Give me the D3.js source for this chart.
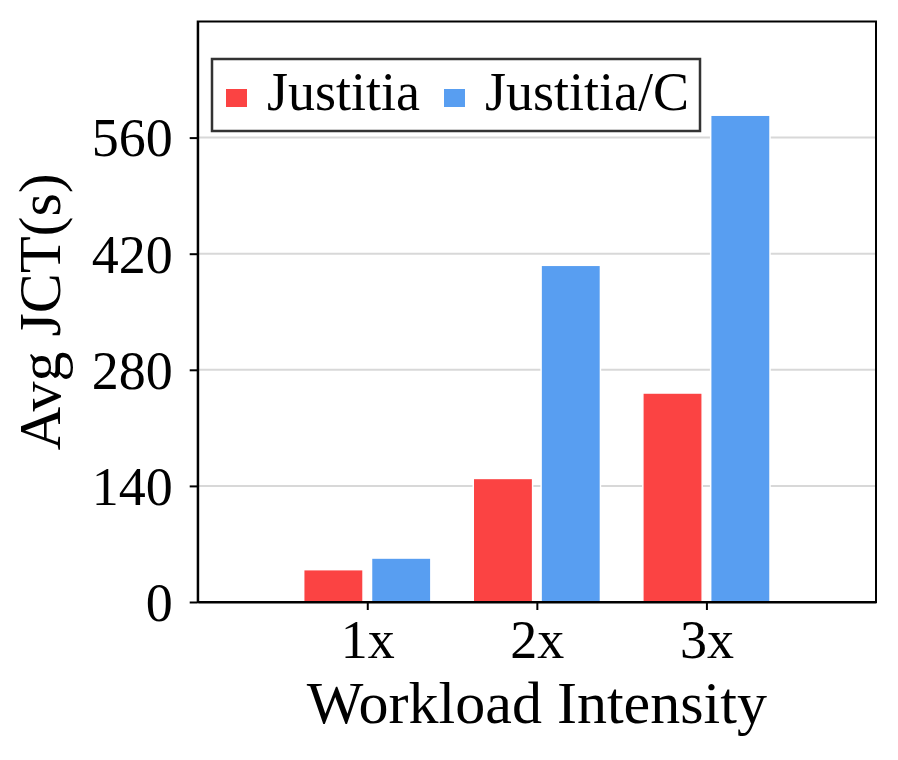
<!DOCTYPE html>
<html>
<head>
<meta charset="utf-8">
<script src="https://cdn.jsdelivr.net/npm/d3@7"></script>
<style>
  html, body { margin: 0; padding: 0; background: #fff; }
  svg text { font-family: "Liberation Serif", "Times New Roman", serif; fill: #000; }
</style>
</head>
<body>
<svg id="chart" width="898" height="760"></svg>
<script>
const categories = ["1x", "2x", "3x"];
const categoryPositions = [1, 2, 3];
const seriesNames = ["Justitia", "Justitia/C"];
const justitiaValues = [39, 149, 252];
const justitiaCValues = [53, 406, 587];
const yTicks = [0, 140, 280, 420, 560];
const colors = ["#fb4343", "#589ef1"];

const seriesValues = [justitiaValues, justitiaCValues];
const offsets = [-0.2, 0.2];
const barWidth = 0.35;

const svg = d3.select("#chart");
const mLeft = 197.7, mRight = 876, mTop = 21.5, mBottom = 602;

const x = d3.scaleLinear().domain([0, 4]).range([mLeft, mRight]);
const y = d3.scaleLinear().domain([0, 700]).range([mBottom, mTop]);

// gridlines
svg.append("g").selectAll("line").data(yTicks.filter(d => d > 0)).join("line")
  .attr("x1", mLeft).attr("x2", mRight)
  .attr("y1", d => y(d)).attr("y2", d => y(d))
  .attr("stroke", "#d8d8d8").attr("stroke-width", 2);

// bars
seriesValues.forEach((vals, si) => {
  svg.append("g").selectAll("rect").data(vals).join("rect")
    .attr("x", (d, i) => x(categoryPositions[i] + offsets[si] - barWidth / 2))
    .attr("width", x(barWidth) - x(0))
    .attr("y", d => y(d))
    .attr("height", d => y(0) - y(d))
    .attr("fill", colors[si])
    .attr("stroke", "#fff").attr("stroke-width", 1.5);
});

// frame
svg.append("rect").attr("x", mLeft).attr("y", mTop)
  .attr("width", mRight - mLeft).attr("height", mBottom - mTop)
  .attr("fill", "none").attr("stroke", "#000").attr("stroke-width", 2);

// axes
const yAxis = svg.append("g").attr("transform", `translate(${mLeft},0)`)
  .call(d3.axisLeft(y).tickValues(yTicks).tickSize(8).tickSizeOuter(0).tickPadding(17));
const xAxis = svg.append("g").attr("transform", `translate(0,${mBottom})`)
  .call(d3.axisBottom(x).tickValues(categoryPositions).tickFormat((d, i) => categories[i]).tickSize(8).tickSizeOuter(0).tickPadding(9));
[yAxis, xAxis].forEach(g => {
  g.select(".domain").attr("stroke", "#000").attr("stroke-width", 2);
  g.selectAll(".tick line").attr("stroke", "#000").attr("stroke-width", 2);
  g.selectAll(".tick text").attr("font-size", 54).attr("font-family", "Liberation Serif").attr("fill", "#000");
});
yAxis.selectAll(".tick text").attr("dy", "0.34em");
xAxis.selectAll(".tick text").attr("dy", "0.72em");

// axis labels
svg.append("text").attr("x", (mLeft + mRight) / 2).attr("y", 723)
  .attr("text-anchor", "middle").attr("font-size", 60).text("Workload Intensity");
svg.append("text").attr("transform", `translate(60,${(mTop + mBottom) / 2}) rotate(-90)`)
  .attr("text-anchor", "middle").attr("font-size", 60).text("Avg JCT(s)");

// legend
const lg = svg.append("g");
lg.append("rect").attr("x", 212).attr("y", 59).attr("width", 488).attr("height", 72)
  .attr("fill", "#fff").attr("stroke", "#333").attr("stroke-width", 2.5);
const legendItems = [{sx: 226, tx: 267}, {sx: 444, tx: 485}];
seriesNames.forEach((name, i) => {
  lg.append("rect").attr("x", legendItems[i].sx).attr("y", 89).attr("width", 21).attr("height", 18)
    .attr("fill", colors[i]);
  lg.append("text").attr("x", legendItems[i].tx).attr("y", 110).attr("font-size", 54).text(name);
});
</script>
</body>
</html>
